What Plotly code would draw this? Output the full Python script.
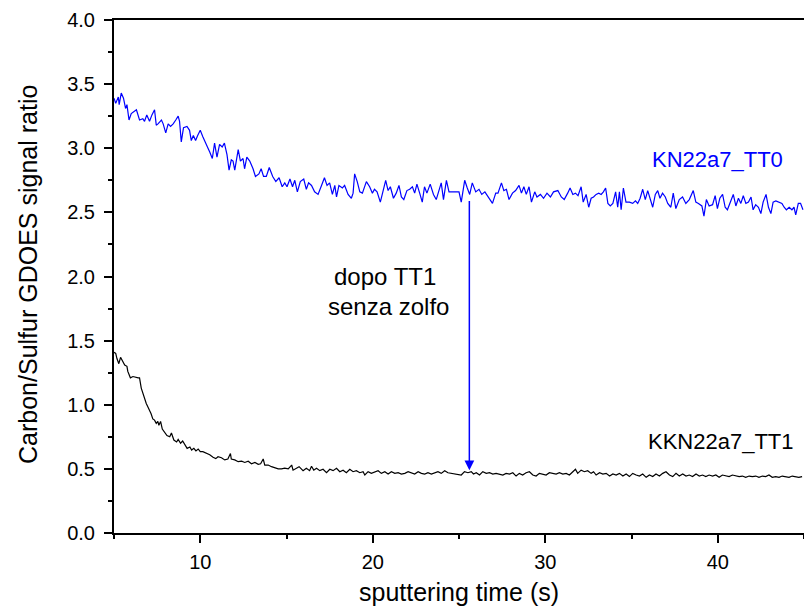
import plotly.graph_objects as go

# KN22a7_TT0 (blue) - sputtering time (s) and C/S ratio
tt0_time = [5.0,5.1,5.25,5.3,5.42,5.55,5.67,5.75,5.87,6.0,6.3,6.48,6.67,6.77,6.9,7.06,7.2,7.35,7.45,7.55,7.75,7.85,8.0,8.14,8.28,8.43,8.58,8.72,8.8,8.9,9.03,9.23,9.38,9.48,9.6,9.73,9.85,10.0,10.15,10.3,10.45,10.55,10.7,10.83,10.97,11.12,11.27,11.4,11.55,11.67,11.8,11.9,12.0,12.2,12.33,12.48,12.57,12.7,12.87,13.06,13.2,13.4,13.53,13.67,13.83,14.0,14.2,14.38,14.57,14.75,14.9,15.03,15.2,15.35,15.48,15.63,15.8,16.0,16.15,16.28,
            16.45,16.63,16.83,17.03,17.2,17.35,17.5,17.66,17.8,17.9,18.04,18.24,18.37,18.57,18.76,18.86,18.95,19.1,19.25,19.4,19.63,19.82,19.98,20.1,20.25,20.44,20.6,20.75,20.89,21.02,21.2,21.36,21.52,21.66,21.8,21.98,22.14,22.3,22.43,22.56,22.72,22.87,23.0,23.14,23.33,23.52,23.68,23.84,23.97,24.1,24.27,24.42,24.65,24.84,25.0,25.13,25.33,25.48,25.62,25.77,25.97,26.16,26.32,26.5,26.68,26.94,27.13,27.26,27.46,27.6,27.75,27.9,28.1,28.28,28.48,28.62,28.76,28.9,29.06,29.2,29.39,29.52,29.72,29.9,30.1,30.3,30.48,30.73,
            30.93,31.1,31.3,31.44,31.6,31.75,31.9,32.08,32.2,32.37,32.52,32.66,32.8,32.95,33.1,33.24,33.37,33.5,33.63,33.77,33.92,34.08,34.2,34.3,34.4,34.53,34.68,34.88,35.07,35.23,35.36,35.5,35.65,35.8,35.94,36.08,36.23,36.38,36.52,36.65,36.8,36.96,37.1,37.28,37.42,37.57,37.77,37.96,38.15,38.35,38.58,38.73,38.88,39.08,39.2,39.34,39.5,39.7,39.85,39.98,40.12,40.28,40.43,40.56,40.76,40.9,41.05,41.2,41.34,41.48,41.63,41.78,41.93,42.05,42.2,42.36,42.5,42.63,42.8,42.94,43.08,43.21,43.37,43.56,43.72,43.85,43.98,44.14,44.3,44.42,44.52,44.67,44.8,44.94]
tt0_ratio = [3.39,3.35,3.40,3.34,3.43,3.39,3.31,3.34,3.22,3.27,3.30,3.22,3.23,3.21,3.26,3.21,3.26,3.30,3.18,3.19,3.22,3.19,3.12,3.19,3.17,3.19,3.22,3.25,3.21,3.05,3.16,3.17,3.14,3.06,3.10,3.06,3.10,3.14,3.09,3.05,3.00,2.97,2.92,3.04,2.93,3.03,3.01,3.04,2.95,2.83,2.91,2.90,2.83,2.99,2.90,2.92,2.84,2.93,2.90,2.84,2.78,2.80,2.84,2.78,2.78,2.85,2.78,2.74,2.77,2.70,2.73,2.70,2.76,2.70,2.75,2.66,2.74,2.76,2.68,2.73,
             2.71,2.66,2.64,2.71,2.77,2.71,2.73,2.64,2.71,2.62,2.71,2.69,2.71,2.64,2.61,2.65,2.80,2.74,2.66,2.65,2.74,2.70,2.65,2.68,2.66,2.58,2.67,2.75,2.67,2.70,2.61,2.65,2.71,2.62,2.60,2.67,2.68,2.70,2.65,2.72,2.65,2.58,2.70,2.65,2.72,2.64,2.60,2.67,2.73,2.60,2.75,2.66,2.66,2.66,2.66,2.58,2.75,2.69,2.64,2.73,2.66,2.68,2.64,2.66,2.62,2.57,2.65,2.65,2.73,2.67,2.68,2.60,2.65,2.67,2.71,2.65,2.70,2.64,2.70,2.58,2.66,2.62,2.64,2.61,2.65,2.62,2.66,2.67,
             2.62,2.60,2.65,2.69,2.64,2.65,2.63,2.70,2.58,2.64,2.54,2.61,2.62,2.64,2.65,2.64,2.66,2.69,2.57,2.55,2.57,2.66,2.54,2.66,2.52,2.69,2.58,2.58,2.57,2.59,2.57,2.61,2.68,2.60,2.67,2.61,2.54,2.64,2.67,2.61,2.65,2.62,2.57,2.54,2.65,2.53,2.60,2.62,2.57,2.60,2.67,2.58,2.57,2.55,2.47,2.60,2.55,2.56,2.63,2.53,2.61,2.64,2.54,2.52,2.60,2.64,2.55,2.61,2.57,2.63,2.57,2.58,2.62,2.52,2.56,2.54,2.49,2.58,2.64,2.54,2.49,2.58,2.59,2.58,2.57,2.54,2.52,2.54,2.52,2.54,2.48,2.57,2.57,2.52]

# KKN22a7_TT1 (black)
tt1_time = [5.0,5.1,5.17,5.28,5.38,5.48,5.62,5.75,5.8,5.95,6.1,6.4,6.48,6.58,6.67,6.77,6.87,6.96,7.06,7.15,7.25,7.35,7.45,7.54,7.6,7.7,7.8,7.93,8.07,8.23,8.33,8.47,8.63,8.72,8.86,8.98,9.1,9.24,9.4,9.5,9.63,9.75,9.88,10.0,10.15,10.35,10.55,10.74,10.9,11.03,11.23,11.42,11.6,11.75,11.8,12.0,12.2,12.4,12.58,12.78,12.97,13.17,13.36,13.5,13.65,13.74,13.94,14.13,14.32,14.52,14.71,14.9,15.1,15.3,15.38,15.58,15.73,
            15.96,16.15,16.34,16.45,16.58,16.74,16.93,17.12,17.32,17.51,17.7,17.9,18.09,18.28,18.47,18.67,18.86,19.05,19.25,19.44,19.54,19.73,19.92,20.12,20.31,20.5,20.7,20.89,21.08,21.28,21.47,21.66,21.86,22.05,22.24,22.43,22.63,22.82,23.01,23.2,23.4,23.59,23.78,23.97,24.17,24.36,24.55,24.74,24.94,25.13,25.32,25.52,25.71,25.84,26.0,26.19,26.38,26.58,26.77,26.96,27.15,27.35,27.54,27.73,27.93,28.12,28.31,28.5,28.69,28.89,29.08,29.28,29.47,29.66,29.86,30.05,
            30.24,30.44,30.63,30.82,31.02,31.21,31.4,31.6,31.75,31.88,32.08,32.27,32.46,32.66,32.8,32.95,33.15,33.34,33.53,33.73,33.92,34.11,34.3,34.5,34.69,34.88,35.07,35.27,35.46,35.65,35.85,36.04,36.23,36.42,36.62,36.81,37.0,37.2,37.39,37.58,37.77,37.97,38.16,38.35,38.54,38.74,38.93,39.12,39.31,39.5,39.7,39.89,40.08,40.27,40.47,40.66,40.85,41.05,41.24,41.43,41.62,41.82,42.01,42.2,42.39,42.59,42.78,42.97,43.16,43.36,43.55,43.74,43.93,44.13,44.32,44.51,44.7,44.89]
tt1_ratio = [1.41,1.40,1.36,1.32,1.37,1.34,1.31,1.30,1.26,1.21,1.22,1.21,1.21,1.13,1.09,1.06,1.01,0.985,0.96,0.93,0.89,0.88,0.855,0.87,0.84,0.87,0.81,0.79,0.76,0.75,0.78,0.725,0.71,0.73,0.70,0.717,0.686,0.66,0.67,0.647,0.66,0.64,0.655,0.634,0.634,0.62,0.61,0.59,0.58,0.595,0.587,0.57,0.577,0.62,0.577,0.57,0.556,0.56,0.55,0.56,0.54,0.55,0.536,0.54,0.577,0.53,0.53,0.517,0.51,0.50,0.50,0.505,0.50,0.53,0.49,0.505,0.517,
             0.486,0.505,0.486,0.52,0.49,0.505,0.486,0.497,0.47,0.497,0.486,0.505,0.478,0.49,0.47,0.497,0.478,0.486,0.47,0.478,0.452,0.478,0.465,0.478,0.486,0.465,0.478,0.46,0.478,0.465,0.47,0.46,0.465,0.478,0.47,0.46,0.478,0.465,0.46,0.47,0.46,0.47,0.478,0.465,0.486,0.47,0.465,0.46,0.452,0.452,0.478,0.47,0.478,0.46,0.47,0.452,0.478,0.465,0.47,0.46,0.465,0.46,0.452,0.465,0.46,0.47,0.444,0.465,0.452,0.47,0.478,0.452,0.444,0.465,0.46,0.452,
             0.47,0.465,0.46,0.47,0.46,0.465,0.452,0.478,0.497,0.465,0.49,0.478,0.486,0.465,0.478,0.452,0.47,0.46,0.465,0.444,0.46,0.452,0.465,0.444,0.46,0.44,0.465,0.452,0.444,0.46,0.434,0.452,0.44,0.46,0.444,0.465,0.478,0.452,0.44,0.465,0.444,0.46,0.444,0.452,0.44,0.46,0.444,0.452,0.44,0.452,0.444,0.452,0.434,0.452,0.444,0.44,0.452,0.444,0.44,0.444,0.434,0.444,0.44,0.444,0.434,0.444,0.44,0.452,0.434,0.44,0.434,0.444,0.44,0.434,0.444,0.44,0.434,0.44]

x_range = [5, 45]
y_range = [0, 4]
arrow_time = 25.6
arrow_from = 2.60
arrow_to = 0.49

FONT = "Liberation Sans, Arial, sans-serif"
BLUE = "#0000ff"

fig = go.Figure()
fig.add_trace(go.Scatter(x=tt0_time, y=tt0_ratio, mode="lines",
                         line=dict(color=BLUE, width=1.2), showlegend=False))
fig.add_trace(go.Scatter(x=tt1_time, y=tt1_ratio, mode="lines",
                         line=dict(color="black", width=1.2), showlegend=False))

fig.update_layout(
    width=804, height=610,
    margin=dict(l=114, r=0, t=20, b=77),
    paper_bgcolor="white", plot_bgcolor="white",
    font=dict(family=FONT, color="black", size=20),
    showlegend=False,
)
fig.update_xaxes(range=x_range, showgrid=False, zeroline=False,
                 showline=True, linecolor="black", linewidth=2, mirror=True,
                 ticks="outside", ticklen=8, tickwidth=2, tickcolor="black",
                 tick0=0, dtick=10, ticklabelstandoff=2,
                 tickfont=dict(size=20),
                 minor=dict(ticks="outside", ticklen=4, tickwidth=2, dtick=5, tick0=0, tickcolor="black"))
fig.update_yaxes(range=y_range, showgrid=False, zeroline=False,
                 showline=True, linecolor="black", linewidth=2,
                 ticks="outside", ticklen=8, tickwidth=2, tickcolor="black",
                 tick0=0, dtick=0.5, tickformat=".1f", ticklabelstandoff=5,
                 tickfont=dict(size=20),
                 minor=dict(ticks="outside", ticklen=4, tickwidth=2, dtick=0.25, tick0=0, tickcolor="black"))

# axis titles
fig.add_annotation(text="sputtering time (s)", xref="paper", yref="paper",
                   x=0.5, y=-0.115, xanchor="center", yanchor="middle",
                   showarrow=False, font=dict(size=25, family=FONT))
fig.add_annotation(text="Carbon/Sulfur GDOES signal ratio", xref="paper", yref="paper",
                   x=-0.1246, y=0.503, xanchor="center", yanchor="middle", textangle=-90,
                   showarrow=False, font=dict(size=25, family=FONT))

# series labels
fig.add_annotation(text="KN22a7_TT0", x=40.0, y=2.91, showarrow=False,
                   font=dict(size=22, color=BLUE, family=FONT))
fig.add_annotation(text="KKN22a7_TT1", x=40.2, y=0.71, showarrow=False,
                   font=dict(size=22, color="black", family=FONT))
fig.add_annotation(text="dopo TT1", x=20.71, y=2.0, showarrow=False,
                   font=dict(size=24, family=FONT))
fig.add_annotation(text="senza zolfo", x=20.91, y=1.77, showarrow=False,
                   font=dict(size=24, family=FONT))

# arrow
fig.add_annotation(x=arrow_time, y=arrow_to, ax=arrow_time, ay=arrow_from,
                   xref="x", yref="y", axref="x", ayref="y", text="",
                   showarrow=True, arrowhead=2, arrowsize=1.3, arrowwidth=1.5,
                   arrowcolor=BLUE, standoff=0)

fig.write_html("out.html", config={"displayModeBar": False},
               post_script="document.body.style.margin='0';document.body.style.overflow='hidden';")
